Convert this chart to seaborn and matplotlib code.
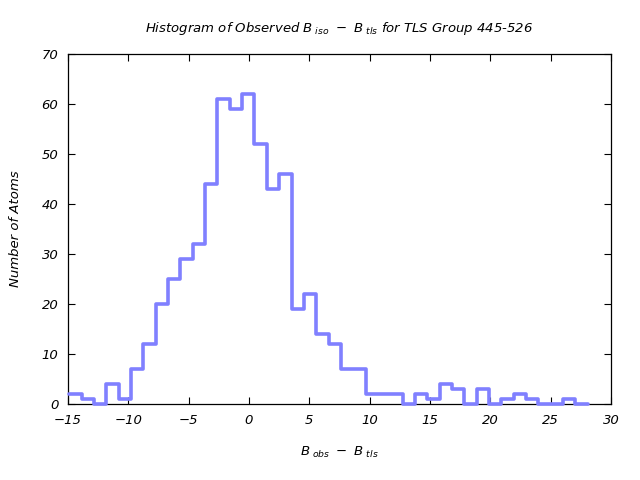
import numpy as np
import pandas as pd
import matplotlib
matplotlib.use("Agg")
import matplotlib.pyplot as plt
import seaborn as sns

# Histogram data
bin_start = -14.89
bin_width = 1.023
counts = [2, 1, 0, 4, 1, 7, 12, 20, 25, 29, 32, 44, 61, 59, 62, 52, 43, 46,
          19, 22, 14, 12, 7, 7, 2, 2, 2, 0, 2, 1, 4, 3, 0, 3, 0, 1, 2, 1,
          0, 0, 1, 0]
x_ticks = [-15, -10, -5, 0, 5, 10, 15, 20, 25, 30]
y_ticks = [0, 10, 20, 30, 40, 50, 60, 70]

n_bins = len(counts)
edges = bin_start + bin_width * np.arange(n_bins + 1)
centers = (edges[:-1] + edges[1:]) / 2
df = pd.DataFrame({"delta": centers, "n": counts})

sns.set_style("white")
plt.rcParams["font.family"] = ["DejaVu Sans"]
plt.rcParams["mathtext.fontset"] = "dejavusans"
plt.rcParams["text.color"] = "black"
plt.rcParams["axes.labelcolor"] = "black"
plt.rcParams["xtick.color"] = "black"
plt.rcParams["ytick.color"] = "black"

fig = plt.figure(figsize=(6.4, 4.8), dpi=100)
ax = fig.add_axes([68 / 640, 1 - 404 / 480, (611 - 68) / 640, (404 - 54) / 480])

sns.histplot(data=df, x="delta", weights="n", bins=n_bins,
             binrange=(float(edges[0]), float(edges[-1])), element="step",
             fill=False, color="#8080ff", linewidth=2.6, ax=ax)
for ln in ax.lines:
    ln.set_clip_on(False)
    ln.set_zorder(5)
for p in ax.patches:
    p.set_clip_on(False)
    p.set_zorder(5)

ax.set_xlim(-15, 30)
ax.set_ylim(0, 70)
ax.set_xticks(x_ticks)
ax.set_yticks(y_ticks)
ax.set_xticklabels([str(t).replace("-", "\u2212") for t in x_ticks],
                   fontstyle="italic", fontsize=9.5)
ax.set_yticklabels([str(t) for t in y_ticks], fontstyle="italic", fontsize=9.5)
ax.tick_params(direction="in", length=5, width=0.8, top=True, right=True,
               bottom=True, left=True, color="black", labelcolor="black", pad=7)
for s in ax.spines.values():
    s.set_visible(True)
    s.set_color("black")
    s.set_linewidth(0.9)

ax.set_xlabel(r"$B_{\ obs}\ -\ B_{\ tls}$", fontsize=9.5, labelpad=13)
ax.set_ylabel("Number of Atoms", fontstyle="italic", fontsize=9.5, labelpad=14)
ax.set_title(r"Histogram of Observed $B_{\ iso}\ -\ B_{\ tls}$ for TLS Group 445-526",
             fontstyle="italic", fontsize=9.5, pad=16)

fig.savefig("out.png", dpi=100)
